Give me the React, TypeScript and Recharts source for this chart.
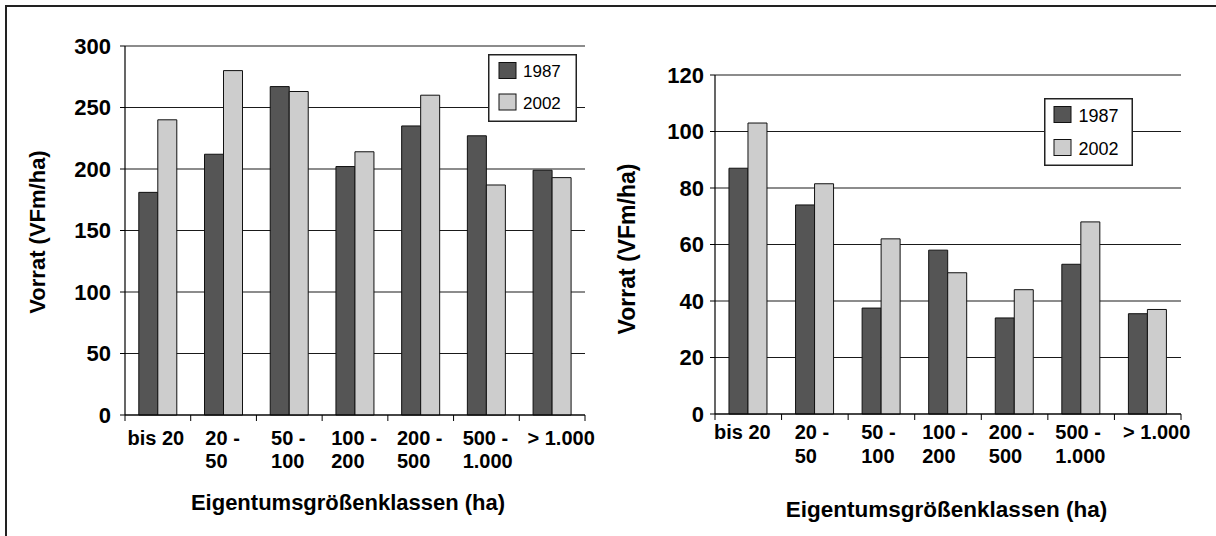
import React from "react";
import { BarChart, Bar, XAxis, YAxis, CartesianGrid, Legend } from "recharts";

// ---- data ----
const categories = ["bis 20", "20 - 50", "50 - 100", "100 - 200", "200 - 500", "500 - 1.000", "> 1.000"];
const tickLabelLines = [["bis 20"], ["20 -", "50"], ["50 -", "100"], ["100 -", "200"], ["200 -", "500"], ["500 -", "1.000"], ["> 1.000"]];
const seriesNames = ["1987", "2002"];
const left1987 = [181, 212, 267, 202, 235, 227, 199];
const left2002 = [240, 280, 263, 214, 260, 187, 193];
const right1987 = [87, 74, 37.5, 58, 34, 53, 35.5];
const right2002 = [103, 81.5, 62, 50, 44, 68, 37];
const leftYTicks = [0, 50, 100, 150, 200, 250, 300];
const rightYTicks = [0, 20, 40, 60, 80, 100, 120];
const yLabel = "Vorrat (VFm/ha)";
const xLabel = "Eigentumsgrößenklassen (ha)";

const leftData = categories.map((name, i) => ({ name, v1987: left1987[i], v2002: left2002[i] }));
const rightData = categories.map((name, i) => ({ name, v1987: right1987[i], v2002: right2002[i] }));

const FONT = "'Liberation Sans', Arial, Helvetica, sans-serif";
const DARK = "#555555";
const LIGHT = "#cdcdcd";

const CW: Record<string, number> = { " ": 0.278, "-": 0.333, ".": 0.278, ">": 0.584, b: 0.611, i: 0.278, s: 0.556 };
function textWidth(s: string, size: number) {
  let w = 0;
  for (const ch of s) w += (CW[ch] ?? 0.556);
  return w * size;
}

type Cfg = {
  width: number; height: number;
  margin: { top: number; right: number; left: number; bottom: number };
  yWidth: number; xHeight: number; band: number; axisY: number;
  tickFont: number; line1Y: number; line2Y: number; lastShift: number; firstShift: number; allShift: number;
  yMax: number; yTicks: number[]; yTickMargin: number;
  yLabelX: number; yLabelY: number; yLabelFont: number;
  xLabelX: number; xLabelY: number; xLabelFont: number;
  legend: { left: number; top: number; w: number; h: number; sqX: number; sqY: number[]; sqW: number; sqH: number; txX: number; txY: number[]; font: number };
};

const leftCfg: Cfg = {
  width: 606, height: 536,
  margin: { top: 46, right: 21, left: 0, bottom: 0 },
  yWidth: 125, xHeight: 121, band: 460 / 7, axisY: 415,
  tickFont: 20, line1Y: 445, line2Y: 468, lastShift: 9, firstShift: -1, allShift: -1,
  yMax: 300, yTicks: leftYTicks, yTickMargin: 9,
  yLabelX: 44.5, yLabelY: 232, yLabelFont: 22,
  xLabelX: 348, xLabelY: 510, xLabelFont: 22,
  legend: { left: 488, top: 54, w: 89, h: 68, sqX: 11, sqY: [8.5, 40], sqW: 17, sqH: 16, txX: 35, txY: [23, 55], font: 17 },
};

const rightCfg: Cfg = {
  width: 610, height: 536,
  margin: { top: 75, right: 35, left: 0, bottom: 0 },
  yWidth: 109, xHeight: 122, band: 466 / 7, axisY: 414,
  tickFont: 20, line1Y: 439, line2Y: 463, lastShift: 9, firstShift: -3, allShift: -3,
  yMax: 120, yTicks: rightYTicks, yTickMargin: 6,
  yLabelX: 28.5, yLabelY: 249, yLabelFont: 23,
  xLabelX: 340.5, xLabelY: 517, xLabelFont: 22.5,
  legend: { left: 438, top: 98, w: 89, h: 68, sqX: 10, sqY: [8.5, 41.5], sqW: 17, sqH: 16, txX: 34.5, txY: [23.5, 56.5], font: 18 },
};

function makeXTick(cfg: Cfg) {
  return (props: any) => {
    const { x, index } = props;
    const lines = tickLabelLines[index] || [String(props.payload?.value)];
    const w1 = textWidth(lines[0], cfg.tickFont);
    const last = index === categories.length - 1;
    const shift = last ? cfg.lastShift : index === 0 ? cfg.allShift + cfg.firstShift : cfg.allShift;
    const startX = x - w1 / 2 + shift;
    const half = cfg.band / 2;
    const style = { fontFamily: FONT, fontSize: cfg.tickFont, fontWeight: "bold" as const, fill: "#000" };
    return (
      <g>
        <line x1={x - half} x2={x - half} y1={cfg.axisY} y2={cfg.axisY + 6} stroke="#000" strokeWidth={1} />
        {last && <line x1={x + half} x2={x + half} y1={cfg.axisY} y2={cfg.axisY + 6} stroke="#000" strokeWidth={1} />}
        <text x={startX} y={cfg.line1Y} textAnchor="start" style={style}>{lines[0]}</text>
        {lines[1] && <text x={startX} y={cfg.line2Y} textAnchor="start" style={style}>{lines[1]}</text>}
      </g>
    );
  };
}

function makeLegend(cfg: Cfg) {
  const L = cfg.legend;
  const fills = [DARK, LIGHT];
  return () => (
    <svg width={L.w} height={L.h} style={{ display: "block" }}>
      <rect x={0.75} y={0.75} width={L.w - 1.5} height={L.h - 1.5} fill="#fff" stroke="#222" strokeWidth={1.5} />
      {seriesNames.map((n, i) => (
        <g key={n}>
          <rect x={L.sqX} y={L.sqY[i]} width={L.sqW} height={L.sqH} fill={fills[i]} stroke="#111" strokeWidth={1} />
          <text x={L.txX} y={L.txY[i]} style={{ fontFamily: FONT, fontSize: L.font, fill: "#000" }}>{n}</text>
        </g>
      ))}
    </svg>
  );
}

function Panel({ cfg, data }: { cfg: Cfg; data: any[] }) {
  const YLab = () => (
    <text
      x={cfg.yLabelX}
      y={cfg.yLabelY}
      transform={`rotate(-90 ${cfg.yLabelX} ${cfg.yLabelY})`}
      textAnchor="middle"
      style={{ fontFamily: FONT, fontSize: cfg.yLabelFont, fontWeight: "bold", fill: "#000" }}
    >
      {yLabel}
    </text>
  );
  const XLab = () => (
    <text
      x={cfg.xLabelX}
      y={cfg.xLabelY}
      textAnchor="middle"
      style={{ fontFamily: FONT, fontSize: cfg.xLabelFont, fontWeight: "bold", fill: "#000" }}
    >
      {xLabel}
    </text>
  );
  return (
    <BarChart width={cfg.width} height={cfg.height} data={data} margin={cfg.margin} barGap={0} barCategoryGap="21%">
      <CartesianGrid horizontal vertical={false} stroke="#1a1a1a" strokeWidth={1.2} />
      <XAxis
        dataKey="name"
        interval={0}
        height={cfg.xHeight}
        tickLine={false}
        axisLine={{ stroke: "#000", strokeWidth: 1.2 }}
        tick={makeXTick(cfg)}
        label={<XLab />}
      />
      <YAxis
        width={cfg.yWidth}
        domain={[0, cfg.yMax]}
        ticks={cfg.yTicks}
        interval={0}
        tickSize={5}
        tickMargin={cfg.yTickMargin}
        tickLine={{ stroke: "#000" }}
        axisLine={{ stroke: "#000", strokeWidth: 1.2 }}
        tick={{ fontFamily: FONT, fontSize: 22, fontWeight: "bold", fill: "#000" }}
        label={<YLab />}
      />
      <YAxis yAxisId="border" orientation="right" width={0} tick={false} tickLine={false} axisLine={{ stroke: "#8a8a8a" }} />
      <Legend
        layout="horizontal"
        verticalAlign="middle"
        align="center"
        content={makeLegend(cfg)}
        wrapperStyle={{ left: cfg.legend.left, top: cfg.legend.top, width: cfg.legend.w, height: cfg.legend.h }}
      />
      <Bar dataKey="v1987" name="1987" fill={DARK} stroke="#111" strokeWidth={1} isAnimationActive={false} />
      <Bar dataKey="v2002" name="2002" fill={LIGHT} stroke="#111" strokeWidth={1} isAnimationActive={false} />
    </BarChart>
  );
}

export default function App() {
  return (
    <div style={{ position: "fixed", left: 0, top: 0, width: 1216, height: 536, background: "#fff", overflow: "hidden" }}>
      <div
        style={{
          position: "absolute", left: 5, top: 5, width: 1215, height: 535,
          borderTop: "2px solid #222", borderLeft: "2px solid #222", boxSizing: "border-box",
        }}
      />
      <div style={{ position: "absolute", left: 0, top: 0 }}>
        <Panel cfg={leftCfg} data={leftData} />
      </div>
      <div style={{ position: "absolute", left: 606, top: 0 }}>
        <Panel cfg={rightCfg} data={rightData} />
      </div>
    </div>
  );
}
